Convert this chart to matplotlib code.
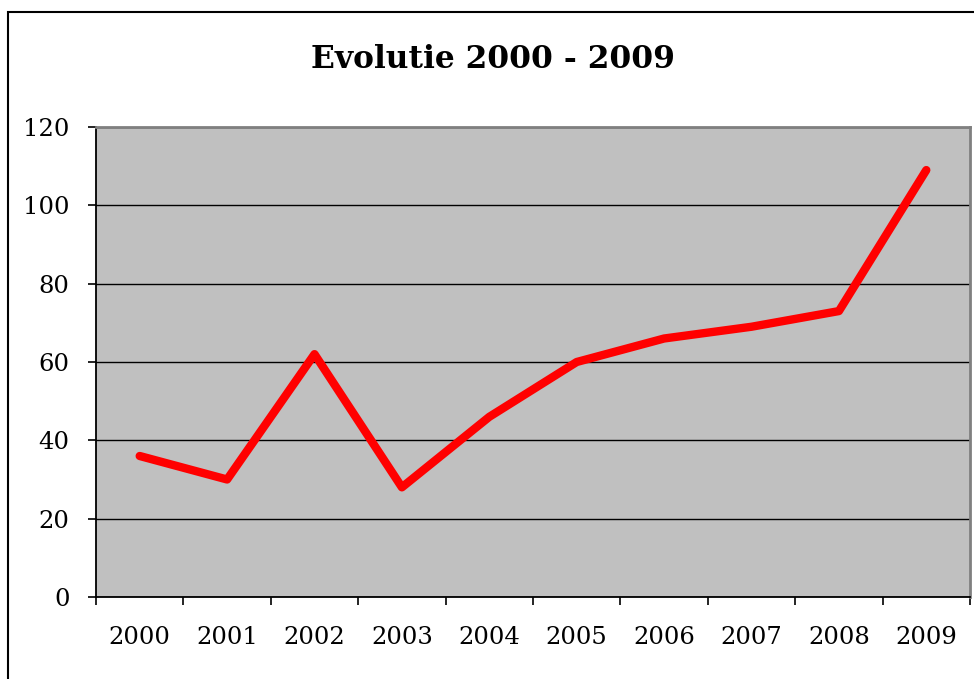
import matplotlib
matplotlib.use("Agg")
import matplotlib.pyplot as plt
from matplotlib.patches import Rectangle
from matplotlib.ticker import FixedLocator, NullFormatter

years = ["2000", "2001", "2002", "2003", "2004", "2005", "2006", "2007", "2008", "2009"]
values = [36, 30, 62, 28, 46, 60, 66, 69, 73, 109]
yticks = [0, 20, 40, 60, 80, 100, 120]
title = "Evolutie 2000 - 2009"

plt.rcParams['font.family'] = ['DejaVu Serif', 'Liberation Serif']

W, H = 974, 679
fig = plt.figure(figsize=(W / 100, H / 100), dpi=100)
fig.patch.set_facecolor("white")

ax = fig.add_axes([96 / W, 1 - 597 / H, (970 - 96) / W, (597 - 127) / H])
ax.set_facecolor("#c0c0c0")

x = list(range(len(years)))
ax.plot(x, values, color="#ff0000", lw=6, solid_capstyle="round", solid_joinstyle="round", zorder=3)

ax.set_xlim(-0.5, len(years) - 0.5)
ax.set_ylim(0, 120)
ax.set_yticks(yticks)
ax.set_yticklabels([str(v) for v in yticks], fontsize=17.5)
ax.yaxis.grid(True, color="black", lw=1.0, zorder=1)
ax.set_axisbelow(True)

ax.xaxis.set_major_locator(FixedLocator([i - 0.5 for i in range(len(years) + 1)]))
ax.xaxis.set_major_formatter(NullFormatter())
ax.xaxis.set_minor_locator(FixedLocator(x))
ax.set_xticklabels(years, minor=True, fontsize=17.5)
ax.tick_params(axis="x", which="minor", length=0, pad=21)
ax.tick_params(axis="x", which="major", length=6, width=1.2, direction="out")
ax.tick_params(axis="y", length=6, width=1.2, direction="out", pad=13)

ax.spines["left"].set_color("black")
ax.spines["left"].set_linewidth(1.3)
ax.spines["bottom"].set_color("black")
ax.spines["bottom"].set_linewidth(1.3)
ax.spines["top"].set_color("#808080")
ax.spines["top"].set_linewidth(2)
ax.spines["right"].set_color("#808080")
ax.spines["right"].set_linewidth(2)

fig.text(493 / W, 1 - 60 / H, title, ha="center", va="center", fontsize=22.5, fontweight="bold")

fig.add_artist(Rectangle((8 / W, -0.1), 1.2, (H - 12) / H + 0.1, fill=False,
                         edgecolor="black", lw=1.5, transform=fig.transFigure, clip_on=False))

fig.savefig("out.png", dpi=100)
